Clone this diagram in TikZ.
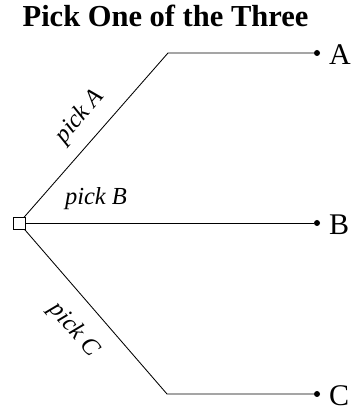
\documentclass[tikz,border=0pt]{standalone}
\usepackage{fontspec}
\setmainfont{Liberation Serif}
\begin{document}
\begin{tikzpicture}[x=1pt,y=1pt,
  branch/.style={line width=0.85pt},
  rootbox/.style={draw, line width=0.85pt, fill=white, minimum size=12pt, inner sep=0pt},
  leafdot/.style={circle, fill=black, minimum size=6pt, inner sep=0pt},
  leaflabel/.style={anchor=west, inner sep=0pt, font=\fontsize{30}{34}\selectfont},
  picklabel/.style={inner sep=0pt, font=\fontsize{24.5}{29}\selectfont\itshape},
  titlefont/.style={font=\fontsize{30.5}{35}\selectfont\bfseries}]
\useasboundingbox (0,0) rectangle (351,408);

% title
\node[titlefont, anchor=base] (title) at (165.5,381) {Pick One of the Three};

% bends of the outer branches and the end points
\coordinate (bendA) at (168,355);
\coordinate (bendC) at (167,14);
\node[leafdot] (dotA) at (317,355) {};
\node[leafdot] (dotB) at (317,185) {};
\node[leafdot] (dotC) at (317,14) {};

% branches from the decision node
\draw[branch] (19,185) coordinate (rootc) -- (bendA) -- (dotA);
\draw[branch] (rootc) -- (dotB);
\draw[branch] (rootc) -- (bendC) -- (dotC);
\node[rootbox] (root) at (rootc) {};

% outcomes
\node[leaflabel] (outA) at (329,353) {A};
\node[leaflabel] (outB) at (329,183) {B};
\node[leaflabel] (outC) at (329,12.5) {C};

% branch labels
\node[picklabel, rotate=48.8] (pickA) at (80,291) {pick A};
\node[picklabel] (pickB) at (96,209) {pick B};
\node[picklabel, rotate=-49.1] (pickC) at (74,78) {pick C};
\end{tikzpicture}
\end{document}
